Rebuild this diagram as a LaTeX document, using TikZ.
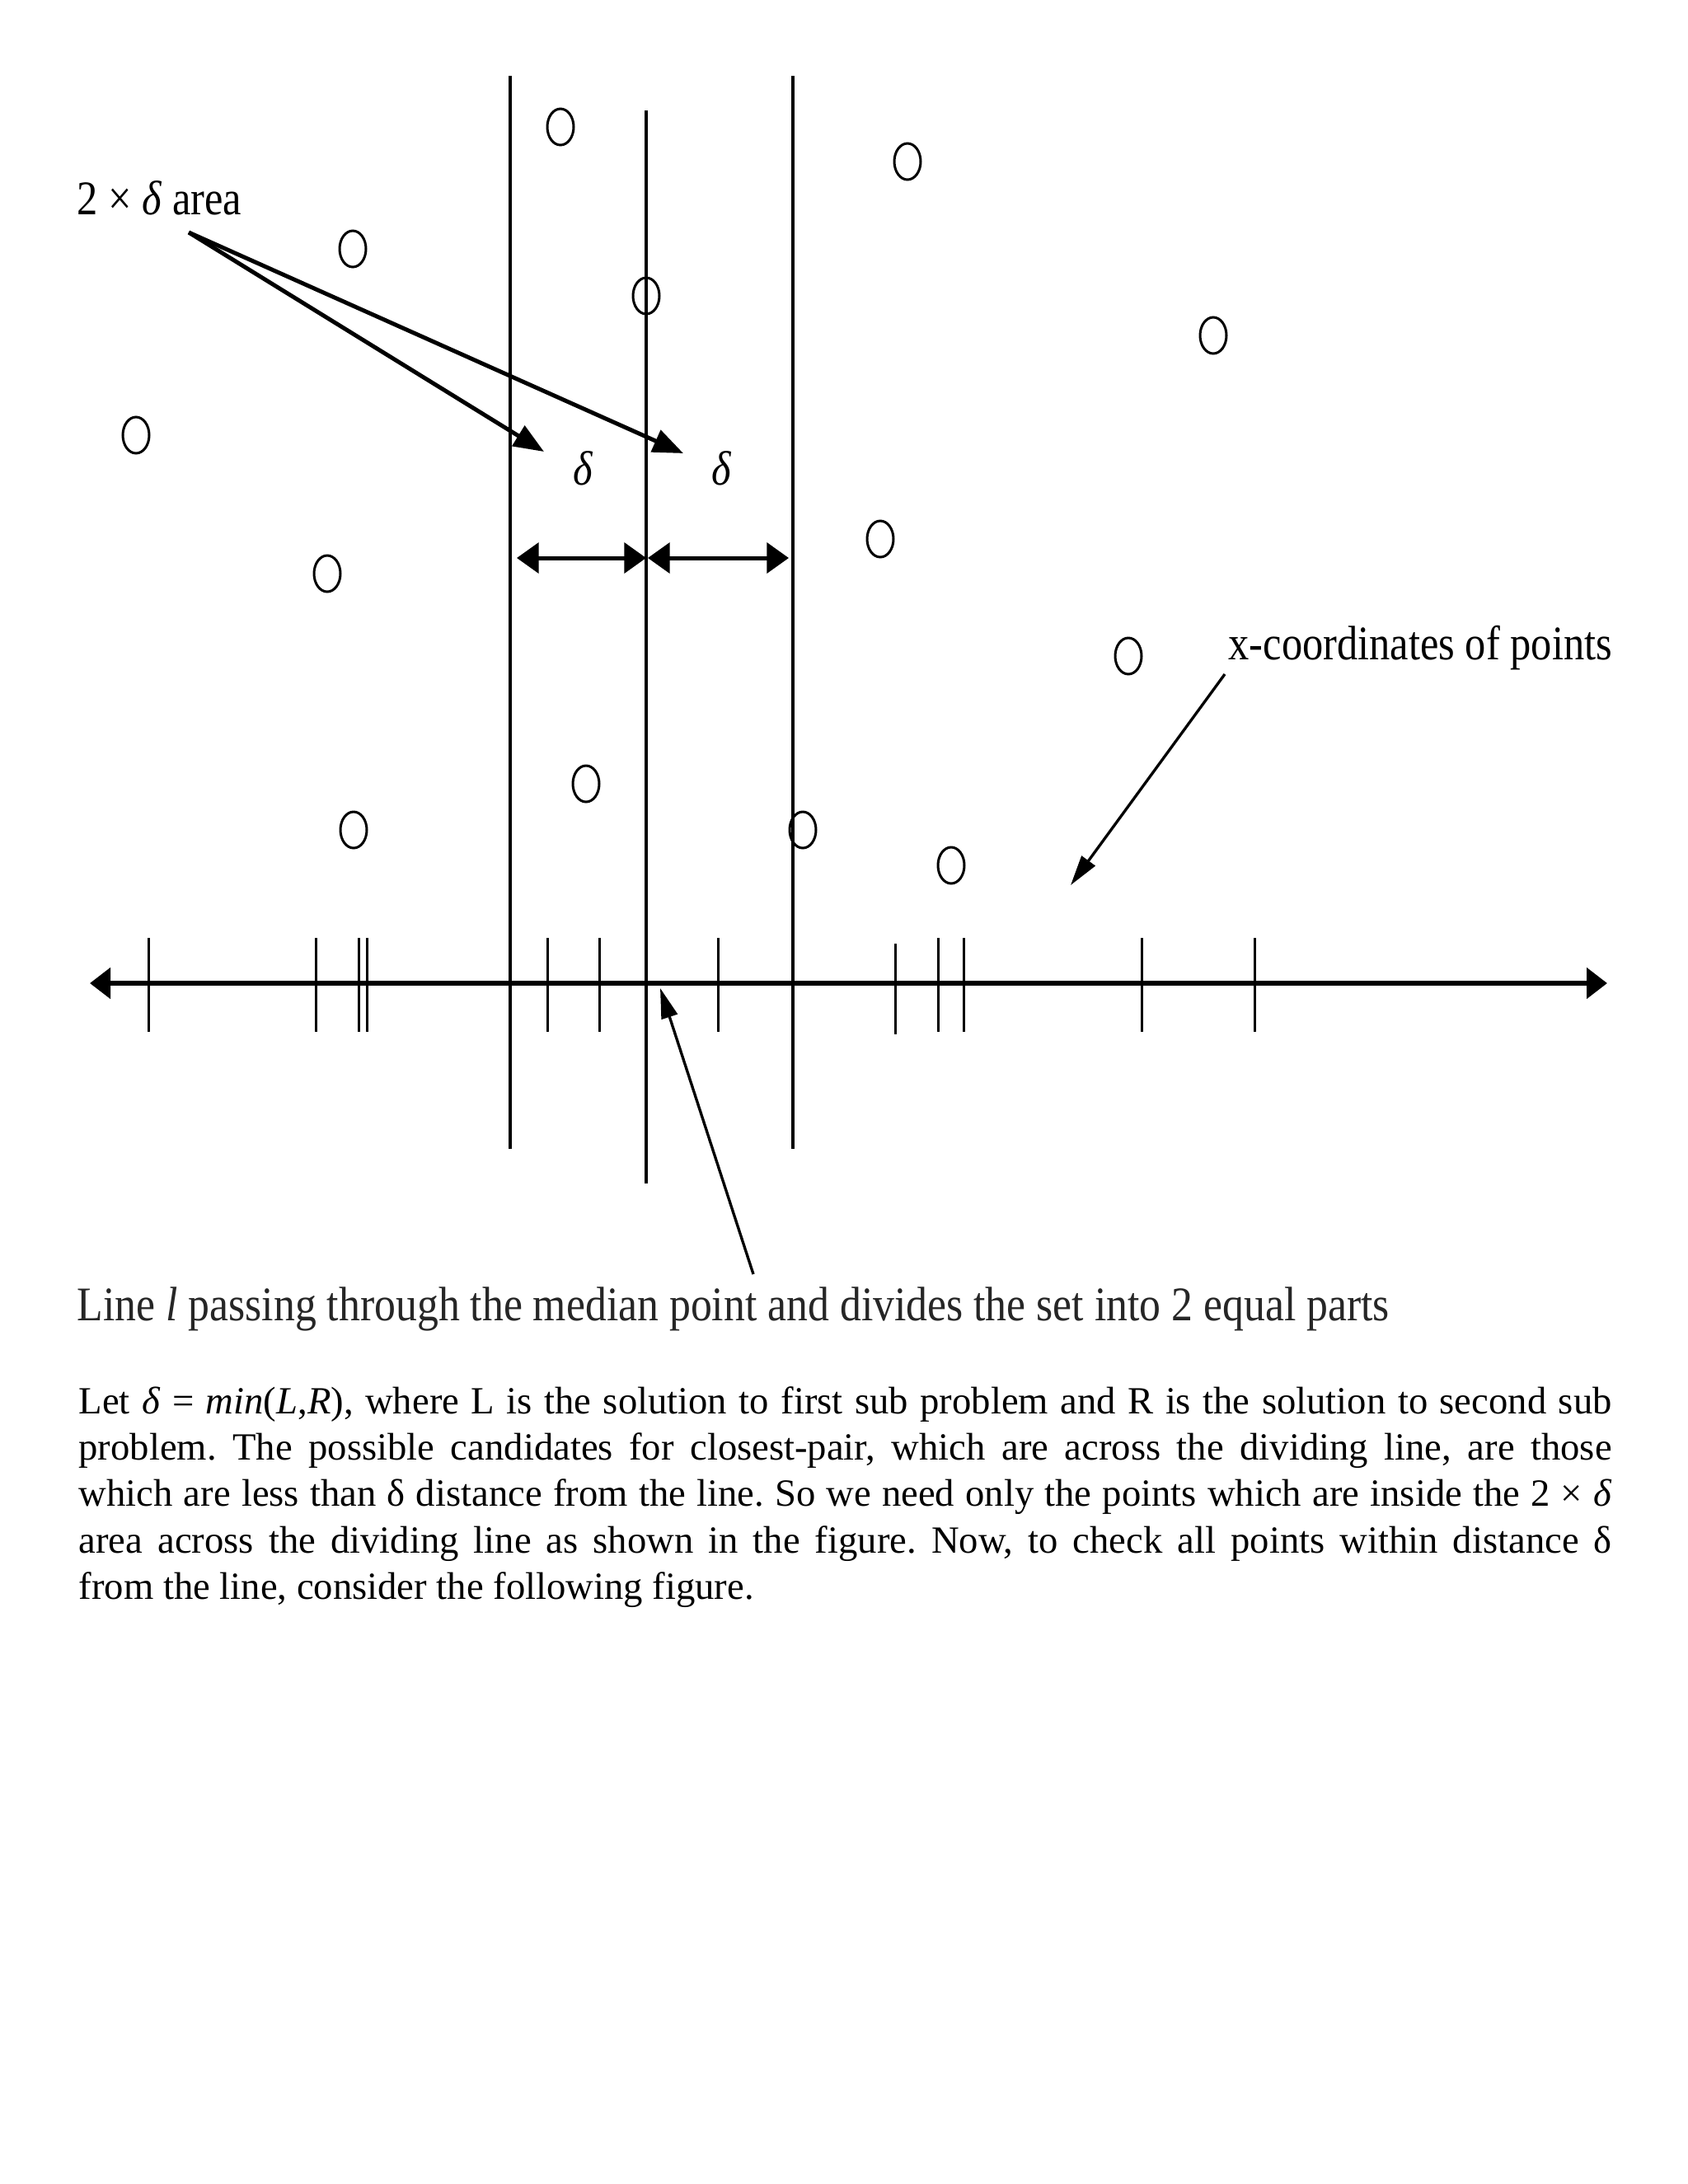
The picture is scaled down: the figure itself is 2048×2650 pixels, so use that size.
\documentclass[tikz,border=0pt]{standalone}
\usepackage{fontspec}
\setmainfont{Liberation Serif}
\newfontfamily\lblfont{Liberation Serif}[FakeStretch=0.86]
\newfontfamily\lblfontwide{Liberation Serif}[FakeStretch=0.882]
\usetikzlibrary{arrows.meta,shapes.geometric}
\begin{document}
\begin{tikzpicture}[x=0.3pt,y=-0.3pt,
  ptmark/.style={draw,ellipse,minimum width=9.6pt,minimum height=13.2pt,inner sep=0pt,line width=0.9pt},
  lbl/.style={font=\lblfont\fontsize{17.6}{21}\selectfont,inner sep=0pt},
  lblwide/.style={font=\lblfontwide\fontsize{17.6}{21}\selectfont,inner sep=0pt},
  para/.style={font=\fontsize{14}{16.9}\selectfont,inner sep=0pt,text width=558pt,align=justify},
  vline/.style={line width=1.2pt},
  tickline/.style={line width=0.9pt},
  areaarrow/.style={line width=1.5pt,-{Triangle[length=11pt,width=8.5pt]}},
  dimarrow/.style={line width=1.5pt,{Triangle[length=8pt,width=11pt]}-{Triangle[length=8pt,width=11pt]}},
  axisline/.style={line width=1.8pt,{Triangle[length=7.5pt,width=11pt]}-{Triangle[length=7.5pt,width=11pt]}},
  thinarrow/.style={line width=1pt,-{Triangle[length=11pt,width=6pt]}}
]
\fill[white] (0,0) rectangle (2048,2650);
\useasboundingbox (0,0) rectangle (2048,2650);

% vertical strip lines
\draw[vline] (619,92) -- (619,1394);
\draw[vline] (784,134) -- (784,1436);
\draw[vline] (962,92) -- (962,1394);

% axis
\coordinate (axL) at (109,1193);
\coordinate (axR) at (1950,1193);
\draw[axisline] (axL) -- (axR);
\foreach \tx in {180,383,435,445,664,727,871,1138,1169,1385,1522}
  \draw[tickline] (\tx,1138) -- (\tx,1252);
\draw[tickline] (1086,1145) -- (1086,1255);

% points
\foreach \n/\px/\py in {1/680/154,2/1101/196,3/428/302,4/784/359,5/1472/407,6/165/528,7/1068/654,8/397/696,9/1369/796,10/711/951,11/429/1007,12/974/1007,13/1154/1050}
  \node[ptmark] (p\n) at (\px,\py) {};

% labels
\node[lbl,anchor=base west] (area) at (93,260) {2 × \textit{δ} area};
\node[lbl,anchor=base] (d1) at (708,588) {\textit{δ}};
\node[lbl,anchor=base] (d2) at (876,588) {\textit{δ}};
\node[lbl,anchor=base west] (xc) at (1490,800) {x-coordinates of points};
\node[lblwide,anchor=base west,text=black!85] (linel) at (93,1602) {Line \textit{l} passing through the median point and divides the set into 2 equal parts};

% arrows from 2 x delta area
\coordinate (aS) at (229,282);
\coordinate (aT1) at (660,548);
\coordinate (aT2) at (829,550);
\draw[areaarrow] (aS) -- (aT1);
\draw[areaarrow] (aS) -- (aT2);

% delta dimension arrows
\coordinate (m1) at (627,677);
\coordinate (m2) at (784,677);
\coordinate (m3) at (786,677);
\coordinate (m4) at (957,677);
\draw[dimarrow] (m1) -- (m2);
\draw[dimarrow] (m3) -- (m4);

% x-coordinates arrow
\coordinate (xS) at (1486,818);
\coordinate (xT) at (1299,1074);
\draw[thinarrow] (xS) -- (xT);

% line l arrow
\coordinate (lS) at (914,1546);
\coordinate (lT) at (801,1199);
\draw[thinarrow] (lS) -- (lT);

% paragraph
\node[para,anchor=base west] (txt) at (95,1715) {\frenchspacing
Let \textit{δ} = \textit{min}(\textit{L},\textit{R}), where L is the solution to first sub problem and R is the solution to second sub\linebreak
problem. The possible candidates for closest-pair, which are across the dividing line, are those\linebreak
which are less than δ distance from the line. So we need only the points which are inside the 2 × \textit{δ}\linebreak
area across the dividing line as shown in the figure. Now, to check all points within distance δ\linebreak
from the line, consider the following figure.};
\end{tikzpicture}
\end{document}
